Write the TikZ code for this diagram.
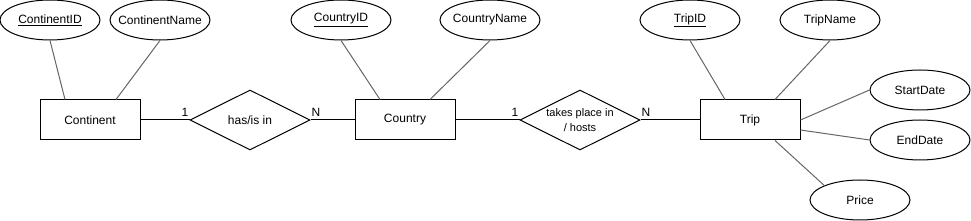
\documentclass[tikz,border=0pt]{standalone}
\usepackage{fontspec}
\setmainfont{Liberation Sans}
\usetikzlibrary{shapes.geometric}

\tikzset{
  entity/.style={draw, line width=1pt, minimum width=100pt, minimum height=40pt, inner sep=0pt, font=\fontsize{12}{14}\selectfont},
  attr/.style={draw, ellipse, line width=1pt, minimum width=100pt, minimum height=40pt, inner sep=0pt, font=\fontsize{12}{14}\selectfont},
  rel/.style={draw, diamond, aspect=2, line width=1pt, minimum width=120pt, minimum height=60pt, inner sep=0pt, align=center},
  attrline/.style={line width=1pt, black!60},
  card/.style={inner sep=1pt, font=\fontsize{12}{14}\selectfont}
}
\newcommand{\attrtxt}[1]{\makebox[0pt]{#1}}

\begin{document}
\begin{tikzpicture}[x=1pt, y=-1pt]
\useasboundingbox (0,0) rectangle (971,221);
% entities
\node[entity] (continent) at (90,120) {Continent};
\node[entity] (country) at (405,120) {Country};
\node[entity] (trip) at (750,120) {Trip};
% relationships
\node[rel, font=\fontsize{12}{14}\selectfont] (hasisin) at (250,120) {has/is in};
\node[rel, font=\fontsize{11}{14.5}\selectfont] (takesplace) at (580,120) {takes place in\\/ hosts};
% attributes
\node[attr] (continentid) at (50,20) {\attrtxt{\underline{ContinentID}}};
\node[attr] (continentname) at (160,20) {\attrtxt{ContinentName}};
\node[attr] (countryid) at (341,20) {\attrtxt{\underline{CountryID}}};
\node[attr] (countryname) at (490,20) {\attrtxt{CountryName}};
\node[attr] (tripid) at (690,20) {\attrtxt{\underline{TripID}}};
\node[attr] (tripname) at (830,20) {\attrtxt{TripName}};
\node[attr] (startdate) at (920,90) {\attrtxt{StartDate}};
\node[attr] (enddate) at (920,140) {\attrtxt{EndDate}};
\node[attr] (price) at (860,200) {\attrtxt{Price}};
% attribute lines
\draw[attrline] (continentid.south) -- ([xshift=-25pt]continent.north);
\draw[attrline] (continentname.south) -- ([xshift=26pt]continent.north);
\draw[attrline] (countryid.south) -- ([xshift=-25pt]country.north);
\draw[attrline] (countryname.south) -- ([xshift=25pt]country.north);
\draw[attrline] (tripid.south) -- ([xshift=-25pt]trip.north);
\draw[attrline] (tripname.south) -- ([xshift=25pt]trip.north);
\draw[attrline] (trip.east) -- (startdate.west);
\draw[attrline] ([yshift=-10pt]trip.east) -- (enddate.west);
\draw[attrline] ([xshift=25pt]trip.south) -- (price.north west);
% relationship lines
\draw[line width=1pt] (continent.east) -- (hasisin.west);
\draw[line width=1pt] (hasisin.east) -- (country.west);
\draw[line width=1pt] (country.east) -- (takesplace.west);
\draw[line width=1pt] (takesplace.east) -- (trip.west);
% cardinalities
\node[card, anchor=south east] (card1) at ([yshift=2pt]hasisin.west) {1};
\node[card, anchor=south west] (card2) at ([yshift=2pt]hasisin.east) {N};
\node[card, anchor=south east] (card3) at ([yshift=2pt]takesplace.west) {1};
\node[card, anchor=south west] (card4) at ([yshift=2pt]takesplace.east) {N};
\end{tikzpicture}
\end{document}
